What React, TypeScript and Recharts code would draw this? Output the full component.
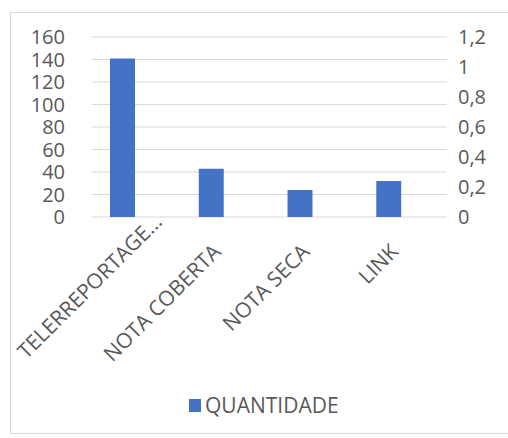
import React from "react";
import { BarChart, Bar, XAxis, YAxis, CartesianGrid, Legend } from "recharts";

const categories = ["TELERREPORTAGE...", "NOTA COBERTA", "NOTA SECA", "LINK"];
const quantidade = [141, 43, 24, 32];
const secundaria: (number | null)[] = [null, null, null, null];
const leftTicks = [0, 20, 40, 60, 80, 100, 120, 140, 160];
const rightTicks = [0, 0.2, 0.4, 0.6, 0.8, 1, 1.2];

const data = categories.map((c, i) => ({
  categoria: c,
  QUANTIDADE: quantidade[i],
  SECUNDARIA: secundaria[i],
}));

const FONT = "'Open Sans', sans-serif";
const TEXT = "#595959";

const fmtRight = (v: number) => String(Number(v.toFixed(1))).replace(".", ",");

const XTick = (props: any) => {
  const { x, y, payload, index } = props;
  const first = index === 0;
  const px = x + (first ? 27 : -3);
  const py = y + (first ? -2 : 28);
  return (
    <text
      x={px}
      y={py}
      transform={`rotate(-45, ${px}, ${py})`}
      textAnchor="end"
      fill={TEXT}
      fontSize={21}
      fontFamily={FONT}
    >
      {payload.value}
    </text>
  );
};

const RightTick = (props: any) => {
  const { x, y, payload } = props;
  return (
    <text x={x} y={y} dy="0.355em" textAnchor="start" fill={TEXT} fontSize={20} fontFamily={FONT}>
      {fmtRight(payload.value)}
    </text>
  );
};

const LegendContent = () => (
  <div
    style={{
      display: "flex",
      alignItems: "center",
      marginLeft: 189,
      fontFamily: FONT,
      fontSize: 21,
      color: TEXT,
      lineHeight: "26px",
    }}
  >
    <span style={{ display: "inline-block", width: 12, height: 13, background: "#4472C4", marginRight: 4 }} />
    <span>QUANTIDADE</span>
  </div>
);

export default function App() {
  return (
    <div style={{ position: "absolute", left: 0, top: 0, width: 508, height: 438, overflow: "hidden", background: "#fff" }}>
      <div
        style={{
          position: "absolute",
          left: 10,
          top: 12,
          width: 520,
          height: 420,
          border: "1px solid #D9D9D9",
        }}
      />
      <div style={{ position: "absolute", left: 0, top: 0 }}>
        <BarChart
          width={508}
          height={438}
          data={data}
          margin={{ top: 37, right: 6, left: 8, bottom: 101 }}
          barSize={25}
          barGap={3}
        >
          <CartesianGrid yAxisId="left" vertical={false} stroke="#D9D9D9" />
          <XAxis
            dataKey="categoria"
            axisLine={false}
            tickLine={false}
            height={120}
            interval={0}
            tick={<XTick />}
          />
          <YAxis
            yAxisId="left"
            orientation="left"
            domain={[0, 160]}
            ticks={leftTicks}
            interval={0}
            width={84}
            axisLine={false}
            tickLine={false}
            tickMargin={21}
            tick={{ fill: TEXT, fontSize: 20, fontFamily: FONT }}
          />
          <YAxis
            yAxisId="right"
            orientation="right"
            type="number"
            domain={[0, 1.2]}
            ticks={rightTicks}
            interval={0}
            allowDataOverflow
            width={55}
            axisLine={false}
            tickLine={false}
            tickMargin={5}
            tick={<RightTick />}
          />
          <Bar yAxisId="left" dataKey="QUANTIDADE" fill="#4472C4" isAnimationActive={false} />
          <Bar yAxisId="right" dataKey="SECUNDARIA" fill="#ED7D31" isAnimationActive={false} legendType="none" />
          <Legend
            layout="horizontal"
            verticalAlign="middle"
            align="center"
            content={<LegendContent />}
            wrapperStyle={{ position: "absolute", left: 0, top: 392, width: 508 }}
          />
        </BarChart>
      </div>
    </div>
  );
}
